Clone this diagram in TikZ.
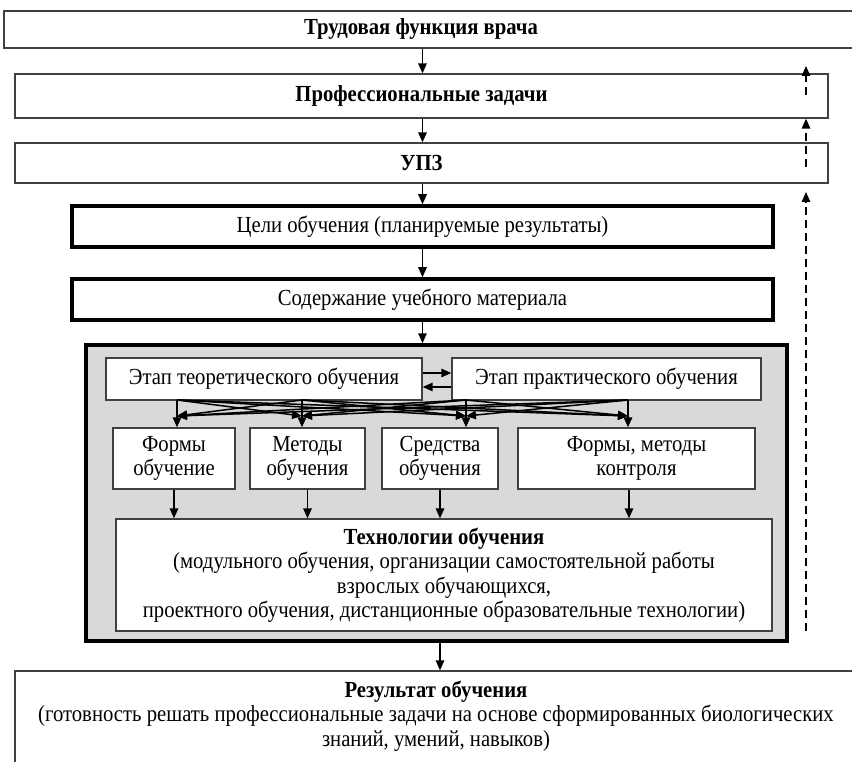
\documentclass[tikz,border=0pt]{standalone}
\usepackage{fontspec}
\setmainfont{Liberation Serif}[FakeStretch=0.9]
\usetikzlibrary{arrows.meta,positioning}
\tikzset{
	x=1pt,
	y=-1pt,
	>={Triangle[length=10pt,width=8.5pt]},
	every node/.style={
		font=\fontsize{23}{24.5}\selectfont,
		align=center,
		inner sep=0pt
	},
	frame/.style={
		draw=black!75,
		line width=1.3pt,
		fill=white
	},
	heavy/.style={
		draw=black,
		line width=3.5pt,
		fill=white
	},
	flow/.style={->, line width=1.5pt},
	feedback/.style={->, line width=1.5pt, dash pattern=on 8pt off 5pt}
}

\begin{document}
\begin{tikzpicture}
  \clip (0,0) rectangle (852,762);
  \fill [white] (0,0) rectangle (852,762);

  \node [frame, minimum width=866, minimum height=37] (labour) at (437,29.5) {};
  \node (labourtxt) at (421,29.5) {\textbf{Трудовая функция врача}};
  \node [frame, minimum width=813, minimum height=44] (tasks) at (421.5,96) {\textbf{Профессиональные задачи}};
  \node [frame, minimum width=813, minimum height=40] (upz) at (421.5,163) {\textbf{УПЗ}};
  \node [heavy, minimum width=701, minimum height=41] (goals) at (422.5,226.5) {Цели обучения (планируемые результаты)};
  \node [heavy, minimum width=701, minimum height=41] (content) at (422.5,299.5) {Содержание учебного материала};

  % learning block
  \node [heavy, fill=black!15, minimum width=701, minimum height=296] (learn) at (436.5,493) {};
  \node [frame, minimum width=316, minimum height=42] (theory) at (264,379) {Этап теоретического обучения};
  \node [frame, minimum width=309, minimum height=42] (practice) at (606.5,379) {Этап практического обучения};
  \node [frame, minimum width=122, minimum height=61] (form1) at (174,458.5) {Формы\\обучение};
  \node [frame, minimum width=115, minimum height=61] (form2) at (307.5,458.5) {Методы\\обучения};
  \node [frame, minimum width=116, minimum height=61] (form3) at (440,458.5) {Средства\\обучения};
  \node [frame, minimum width=237, minimum height=61] (form4) at (636.5,458.5) {Формы, методы\\контроля};
  \node [frame, minimum width=656, minimum height=112] (tech) at (444,575) {\textbf{Технологии обучения}\\(модульного обучения, организации самостоятельной работы\\взрослых обучающихся,\\проектного обучения, дистанционные образовательные технологии)};

  \node [frame, minimum width=855, minimum height=119] (result) at (442.5,730.5) {};
  \node (resulttxt) at (436,716) {\textbf{Результат обучения}\\(готовность решать профессиональные задачи на основе сформированных биологических\\знаний, умений, навыков)};

  % main line
  \draw [flow] (goals |- labour.south) -- (goals |- tasks.north);
  \draw [flow] (goals |- tasks.south) -- (goals |- upz.north);
  \draw [flow] (goals |- upz.south) -- (goals.north);
  \draw [flow] (goals.south) -- (content.north);
  \draw [flow] (content.south) -- (content |- learn.north);
  \draw [flow] (form3 |- learn.south) -- (form3 |- result.north);

  \draw [flow] ([yshift=6pt]theory.east) -- ([yshift=6pt]practice.west);
  \draw [flow] ([yshift=-8pt]practice.west) -- ([yshift=-8pt]theory.east);

  % stages to forms
  \coordinate (s1) at (177,400);
  \coordinate (s2) at (302,400);
  \coordinate (s3) at (466,400);
  \coordinate (s4) at (628,400);
  \foreach \i in {1,...,4}
    \draw [flow] (s\i) -- (s\i |- form\i.north);
  \foreach \i in {1,...,4}
    \foreach \j in {1,...,4}
      {\ifnum\i=\j\else \draw [flow] (s\i) -- ([yshift=-16pt]s\j); \fi}

  \draw [flow] (form1.south) -- (form1 |- tech.north);
  \draw [flow] (form2.south) -- (form2 |- tech.north);
  \draw [flow] (form3.south) -- (form3 |- tech.north);
  \draw [flow] ([xshift=-7.5pt]form4.south) -- ([xshift=-7.5pt]form4.south |- tech.north);

  % back links
  \coordinate (b1) at (806,95);
  \coordinate (b2) at (806,167);
  \coordinate (b3) at (806,631);
  \draw [feedback] (b1) -- (b1 |- 0,66);
  \draw [feedback] (b2) -- (b2 |- tasks.south);
  \draw [feedback] (b3) -- (b3 |- 0,192);
\end{tikzpicture}
\end{document}
